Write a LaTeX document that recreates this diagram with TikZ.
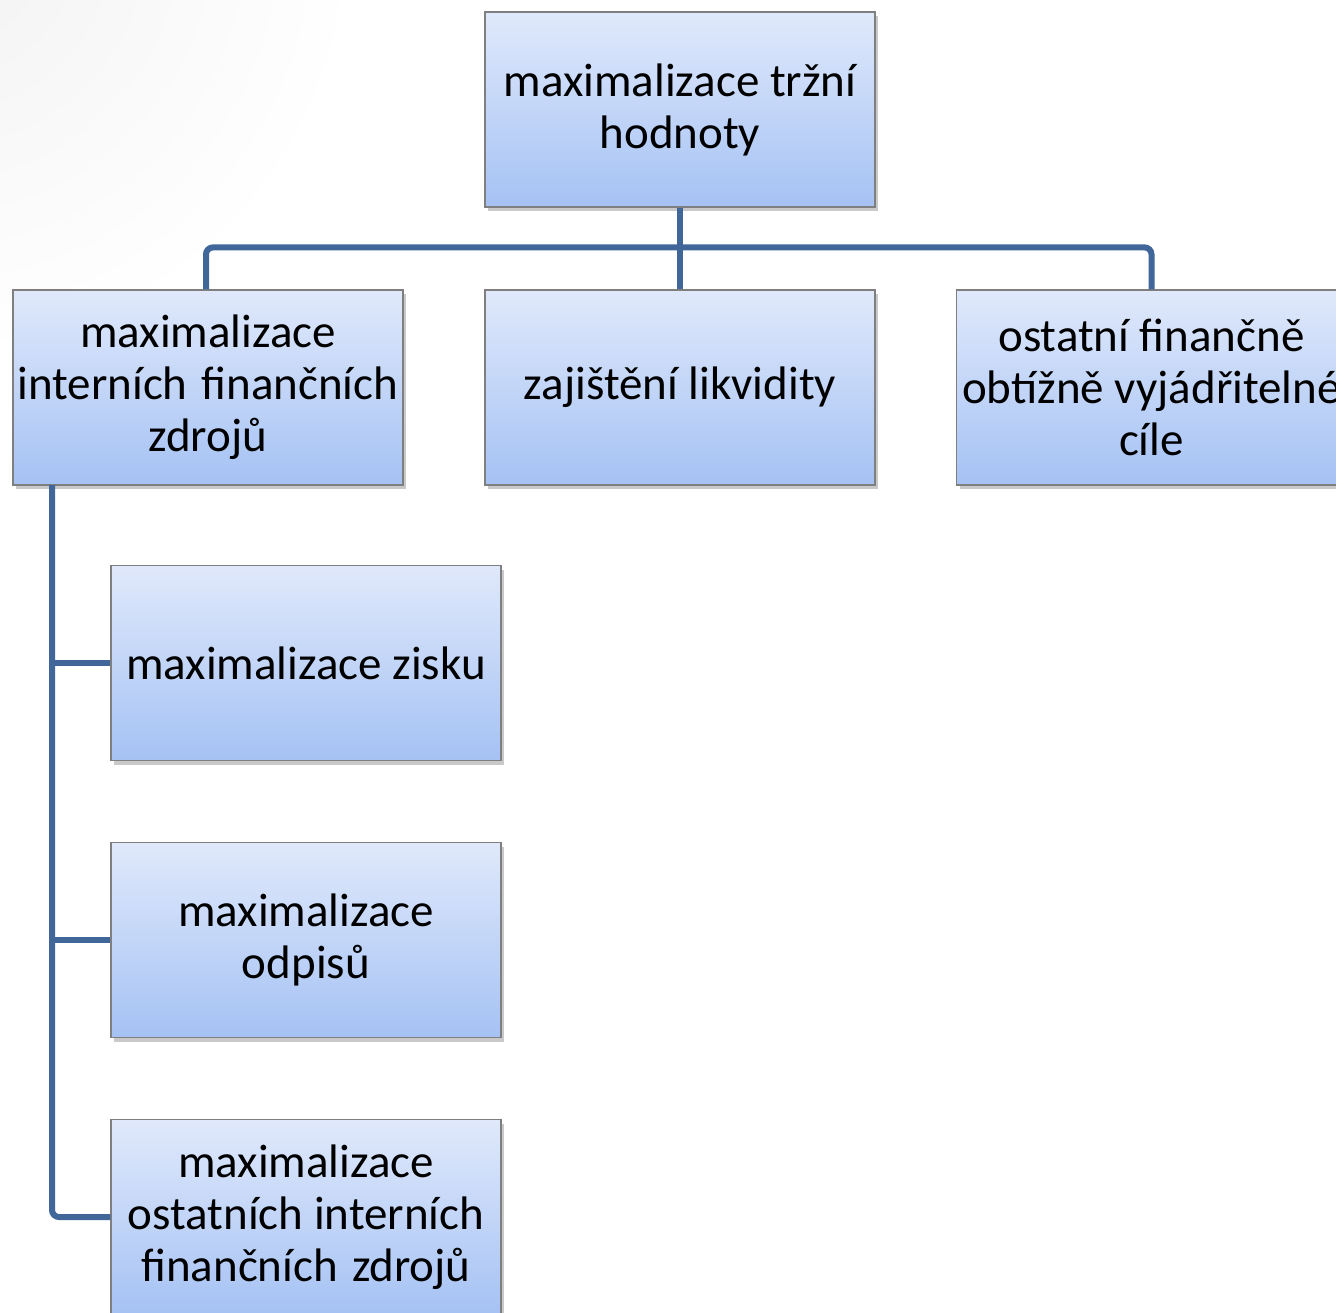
\documentclass[tikz,border=0pt]{standalone}
\usepackage{fontspec}
\setmainfont{Carlito}
\usetikzlibrary{shadows,calc}
\definecolor{boxtop}{HTML}{E0E9FB}
\definecolor{boxmid}{HTML}{CADAF8}
\definecolor{boxbot}{HTML}{A5C2F4}
\definecolor{boxline}{HTML}{7F7F7F}
\definecolor{conncol}{HTML}{41679A}
\tikzset{
  box/.style={rectangle, draw=boxline, line width=1.2pt,
    top color=boxtop, middle color=boxmid, bottom color=boxbot,
    minimum width=390pt, minimum height=195pt, inner sep=2pt,
    align=center, text=black,
    font=\fontsize{47}{52}\selectfont,
    drop shadow={shadow xshift=3pt, shadow yshift=-4pt, opacity=0.35, fill=black!60}},
  conn/.style={draw=conncol, line width=6pt, rounded corners=7pt}
}
\begin{document}
\begin{tikzpicture}[x=1pt,y=-1pt]
\useasboundingbox (0,0) rectangle (1336,1312);
\clip (0,0) rectangle (1336,1312);
\fill[white] (0,0) rectangle (1336,1312);
\shade[inner color=black!5, outer color=white] (-60,-60) circle (420);
\node[box] (top) at (680,109.5) {maximalizace tržní\\hodnoty};
\node[box] (left) at (208,387.5) {maximalizace\\interních\hspace{0.3em}finančních\\zdrojů};
\node[box] (mid) at (680,387.5) {zajištění likvidity};
\node[box] (right) at (1151.5,387.5) {ostatní finančně\\obtížně vyjádřitelné\\cíle};
\node[box] (c1) at (306,663) {maximalizace zisku};
\node[box] (c2) at (306,940) {maximalizace\\odpisů};
\node[box] (c3) at (306,1217) {maximalizace\\ostatních interních\\finančních\hspace{0.3em}zdrojů};
\coordinate (sp) at (52,485);
\draw[conn] (top.south) -- (mid.north);
\draw[conn] ($(left.north)+(-2,0)$) -- ++(0,-42) -| (right.north);
\draw[conn] (sp) |- (c3.west);
\draw[conn, rounded corners=0pt] (c1.west) -- (c1.west -| sp);
\draw[conn, rounded corners=0pt] (c2.west) -- (c2.west -| sp);
\end{tikzpicture}
\end{document}
